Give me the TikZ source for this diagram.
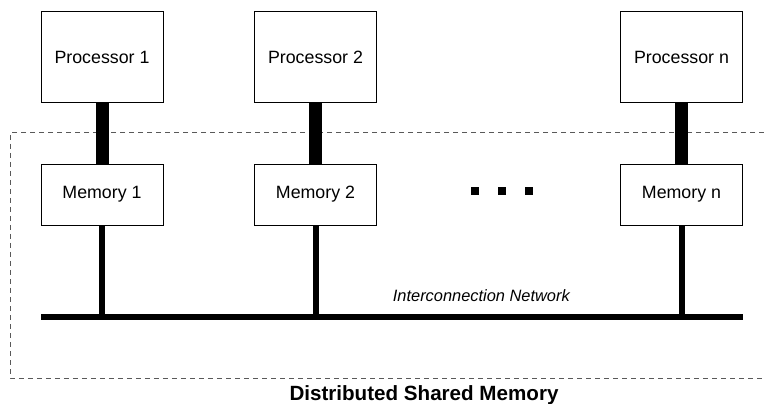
\documentclass[tikz,border=0pt]{standalone}
\usepackage{fontspec}
\setmainfont{Liberation Sans}
\begin{document}
\begin{tikzpicture}[x=1pt,y=-1pt,
  unitbox/.style={draw=black,line width=1pt,rectangle,minimum width=122pt,inner sep=0pt,font=\fontsize{17.8}{20}\selectfont},
  procbox/.style={unitbox,minimum height=91pt},
  membox/.style={unitbox,minimum height=61pt},
  thicklink/.style={line width=13pt},
  buslink/.style={line width=6pt},
  dsmframe/.style={draw=black!65,line width=1pt,dash pattern=on 5pt off 4pt},
  dotsq/.style={fill=black,rectangle,minimum size=8pt,inner sep=0pt}]
\useasboundingbox (0,0) rectangle (764,404);
% dashed frame
\coordinate (ftr) at (764,133);
\coordinate (ftl) at (10,133);
\coordinate (fbl) at (10,378);
\coordinate (fbr) at (764,378);
\draw[dsmframe] (ftr) -- (ftl) -- (fbl) -- (fbr);
% processors and memories
\node[procbox] (p1) at (102,57.3) {Processor 1};
\node[procbox] (p2) at (315.5,57.3) {Processor 2};
\node[procbox] (pn) at (681.5,57.3) {Processor n};
\node[membox] (m1) at (102,194.5) {Memory 1};
\node[membox] (m2) at (315.5,194.5) {Memory 2};
\node[membox] (mn) at (681.5,194.5) {Memory n};
\draw[thicklink] (p1.south) -- (m1.north);
\draw[thicklink] (p2.south) -- (m2.north);
\draw[thicklink] (pn.south) -- (mn.north);
% bus
\coordinate (busl) at (41,317);
\coordinate (busr) at (743,317);
\coordinate (b1) at (102,317);
\coordinate (b2) at (315.5,317);
\coordinate (bn) at (681.5,317);
\draw[buslink] (busl) -- (busr);
\draw[buslink] (m1.south) -- (b1);
\draw[buslink] (m2.south) -- (b2);
\draw[buslink] (mn.south) -- (bn);
% dots
\node[dotsq] (d1) at (475,191) {};
\node[dotsq] (d2) at (502,191) {};
\node[dotsq] (d3) at (529,191) {};
% labels
\node[anchor=base west,inner sep=0pt,font=\fontsize{16.4}{18}\selectfont\itshape] (net) at (392.7,301.7) {Interconnection Network};
\node[anchor=base,inner sep=0pt,font=\fontsize{20.6}{23}\selectfont\bfseries] (dsm) at (424,400.7) {Distributed Shared Memory};
\end{tikzpicture}
\end{document}
